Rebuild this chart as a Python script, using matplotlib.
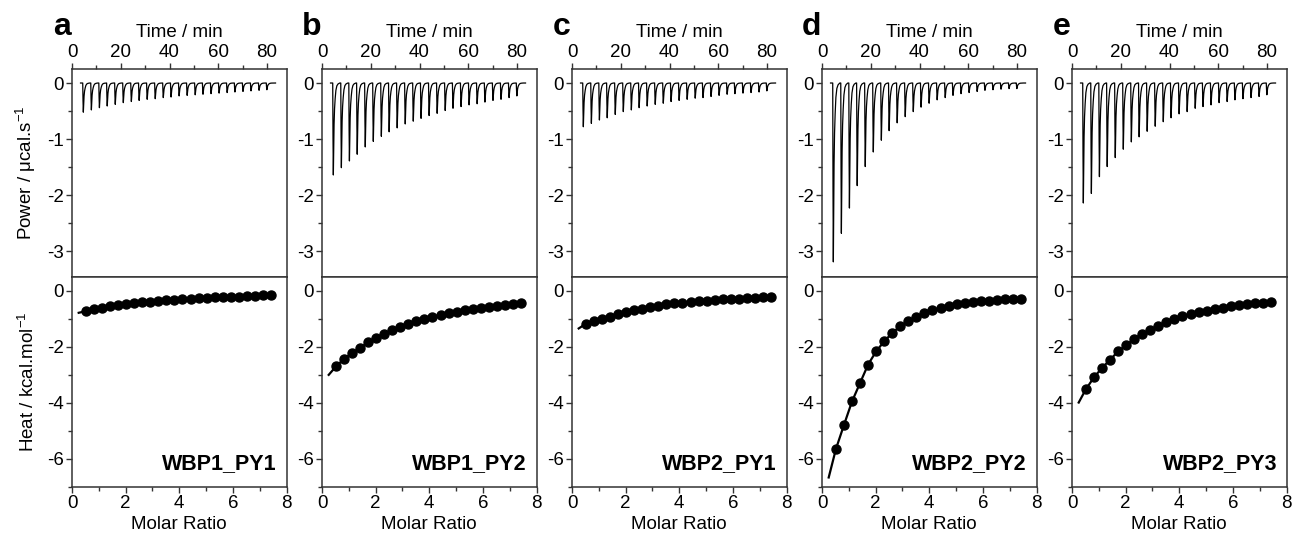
import numpy as np
import matplotlib.pyplot as plt
from matplotlib.ticker import MultipleLocator

plt.rcParams['font.family'] = ['Liberation Sans', 'DejaVu Sans']
plt.rcParams['mathtext.fontset'] = 'custom'
plt.rcParams['mathtext.rm'] = 'Liberation Sans'
plt.rcParams['mathtext.it'] = 'Liberation Sans'
plt.rcParams['axes.unicode_minus'] = False

letters = ['a', 'b', 'c', 'd', 'e']
names = ['WBP1_PY1', 'WBP1_PY2', 'WBP2_PY1', 'WBP2_PY2', 'WBP2_PY3']

# injection times (min)
inj_time = [4.4, 7.7, 11.0, 14.2, 17.5, 20.8, 24.1, 27.3, 30.6, 33.9, 37.2, 40.4,
            43.7, 47.0, 50.3, 53.5, 56.8, 60.1, 63.4, 66.6, 69.9, 73.2, 76.5, 79.7]

# peak depths (ucal/s) for each titration
peak_a = [-0.52, -0.48, -0.44, -0.41, -0.38, -0.35, -0.33, -0.31, -0.29, -0.28, -0.26, -0.25,
          -0.23, -0.22, -0.21, -0.20, -0.19, -0.18, -0.17, -0.16, -0.15, -0.14, -0.13, -0.12]
peak_b = [-1.64, -1.51, -1.39, -1.27, -1.14, -1.04, -0.95, -0.87, -0.80, -0.73, -0.68, -0.63,
          -0.58, -0.54, -0.49, -0.45, -0.42, -0.39, -0.37, -0.34, -0.31, -0.29, -0.26, -0.23]
peak_c = [-0.78, -0.72, -0.66, -0.62, -0.56, -0.51, -0.48, -0.44, -0.41, -0.38, -0.36, -0.33,
          -0.31, -0.29, -0.27, -0.26, -0.24, -0.22, -0.20, -0.19, -0.18, -0.17, -0.16, -0.14]
peak_d = [-3.19, -2.68, -2.23, -1.83, -1.49, -1.23, -1.02, -0.85, -0.71, -0.60, -0.51, -0.43,
          -0.36, -0.30, -0.26, -0.22, -0.19, -0.17, -0.15, -0.13, -0.12, -0.11, -0.10, -0.10]
peak_e = [-2.14, -1.97, -1.67, -1.49, -1.33, -1.18, -1.05, -0.96, -0.86, -0.77, -0.69, -0.62,
          -0.55, -0.51, -0.45, -0.42, -0.39, -0.35, -0.33, -0.30, -0.28, -0.26, -0.24, -0.21]

# shape of one injection peak (offset in min, fraction of depth)
peak_dt = [0.0, 0.12, 0.25, 0.4, 0.55, 0.75, 1.0, 1.3, 1.7, 2.2, 2.9]
peak_frac = [0.0, 0.6, 1.0, 0.7, 0.45, 0.28, 0.17, 0.08, 0.03, 0.01, 0.0]
trace_start, trace_end = 3.5, 83.5

# integrated heats (kcal/mol)
molar_ratio = [0.52, 0.82, 1.12, 1.42, 1.72, 2.02, 2.32, 2.62, 2.92, 3.22, 3.52, 3.82,
               4.12, 4.42, 4.72, 5.02, 5.32, 5.62, 5.92, 6.22, 6.52, 6.82, 7.12, 7.42]
heat_a = [-0.72, -0.65, -0.60, -0.55, -0.51, -0.47, -0.44, -0.41, -0.38, -0.35, -0.33, -0.33,
          -0.30, -0.28, -0.26, -0.25, -0.23, -0.22, -0.21, -0.20, -0.18, -0.17, -0.15, -0.13]
heat_b = [-2.70, -2.43, -2.22, -2.04, -1.83, -1.68, -1.53, -1.41, -1.29, -1.17, -1.08, -0.99,
          -0.92, -0.86, -0.78, -0.74, -0.69, -0.63, -0.60, -0.56, -0.53, -0.49, -0.45, -0.42]
heat_c = [-1.17, -1.07, -0.99, -0.92, -0.84, -0.76, -0.69, -0.63, -0.57, -0.53, -0.48, -0.44,
          -0.42, -0.39, -0.37, -0.35, -0.32, -0.30, -0.29, -0.27, -0.26, -0.25, -0.23, -0.21]
heat_d = [-5.65, -4.79, -3.95, -3.29, -2.63, -2.16, -1.80, -1.50, -1.26, -1.08, -0.93, -0.80,
          -0.68, -0.61, -0.54, -0.48, -0.43, -0.40, -0.37, -0.35, -0.31, -0.30, -0.29, -0.28]
heat_e = [-3.51, -3.09, -2.75, -2.46, -2.16, -1.94, -1.71, -1.53, -1.40, -1.26, -1.10, -0.99,
          -0.90, -0.84, -0.76, -0.71, -0.64, -0.61, -0.55, -0.51, -0.47, -0.44, -0.42, -0.38]
# start of the fitted curve
fit_x0 = 0.25
fit_y0 = [-0.78, -3.0, -1.34, -6.67, -3.99]

peaks = [peak_a, peak_b, peak_c, peak_d, peak_e]
heats = [heat_a, heat_b, heat_c, heat_d, heat_e]

W, H = 1293, 537
fig = plt.figure(figsize=(W / 100, H / 100), dpi=100)

spine_c = '#333333'


def style(ax):
    for s in ax.spines.values():
        s.set_color(spine_c)
        s.set_linewidth(1.1)
    ax.tick_params(which='both', direction='out', color=spine_c, width=1.0,
                   labelsize=13.5, pad=2)
    ax.tick_params(which='major', length=4)
    ax.tick_params(which='minor', length=3)


for i in range(5):
    left = (72 + 250 * i) / W
    w = 214.5 / W
    ax_top = fig.add_axes([left, (H - 277) / H, w, 208 / H])
    ax_bot = fig.add_axes([left, (H - 486.7) / H, w, 209.7 / H])

    # raw thermogram
    t = [trace_start]
    p = [0.0]
    for ti, h in zip(inj_time, peaks[i]):
        for dt, f in zip(peak_dt, peak_frac):
            t.append(ti + dt)
            p.append(h * f)
    t.append(trace_end)
    p.append(0.0)
    ax_top.plot(t, p, color='black', lw=0.9)
    ax_top.set_xlim(0, 88)
    ax_top.set_ylim(-3.46, 0.25)
    ax_top.xaxis.tick_top()
    ax_top.xaxis.set_label_position('top')
    ax_top.xaxis.set_major_locator(MultipleLocator(20))
    ax_top.xaxis.set_minor_locator(MultipleLocator(10))
    ax_top.yaxis.set_major_locator(MultipleLocator(1))
    ax_top.yaxis.set_minor_locator(MultipleLocator(0.5))
    ax_top.set_xlabel('Time / min', fontsize=13.5, labelpad=5)
    style(ax_top)

    # integrated heats
    ax_bot.plot([fit_x0] + molar_ratio, [fit_y0[i]] + heats[i], color='black', lw=1.6)
    ax_bot.plot(molar_ratio, heats[i], 'o', color='black', ms=6.5)
    ax_bot.set_xlim(0, 8)
    ax_bot.set_ylim(-7, 0.5)
    ax_bot.xaxis.set_major_locator(MultipleLocator(2))
    ax_bot.xaxis.set_minor_locator(MultipleLocator(1))
    ax_bot.yaxis.set_major_locator(MultipleLocator(2))
    ax_bot.yaxis.set_minor_locator(MultipleLocator(1))
    ax_bot.set_xlabel('Molar Ratio', fontsize=13.5, labelpad=3)
    ax_bot.text(0.956, 0.084, names[i], transform=ax_bot.transAxes, ha='right',
                va='baseline', fontsize=15.5, fontweight='bold')
    style(ax_bot)

    if i == 0:
        ax_top.set_ylabel('Power / μcal.s$^{-1}$', fontsize=13.5, labelpad=6)
        ax_bot.set_ylabel('Heat / kcal.mol$^{-1}$', fontsize=13.5, labelpad=6)

    fig.text((61.5 + 250 * i) / W, 1 - 35 / H, letters[i], ha='center', va='baseline',
             fontsize=23, fontweight='bold')

fig.savefig('out.png', dpi=100)
